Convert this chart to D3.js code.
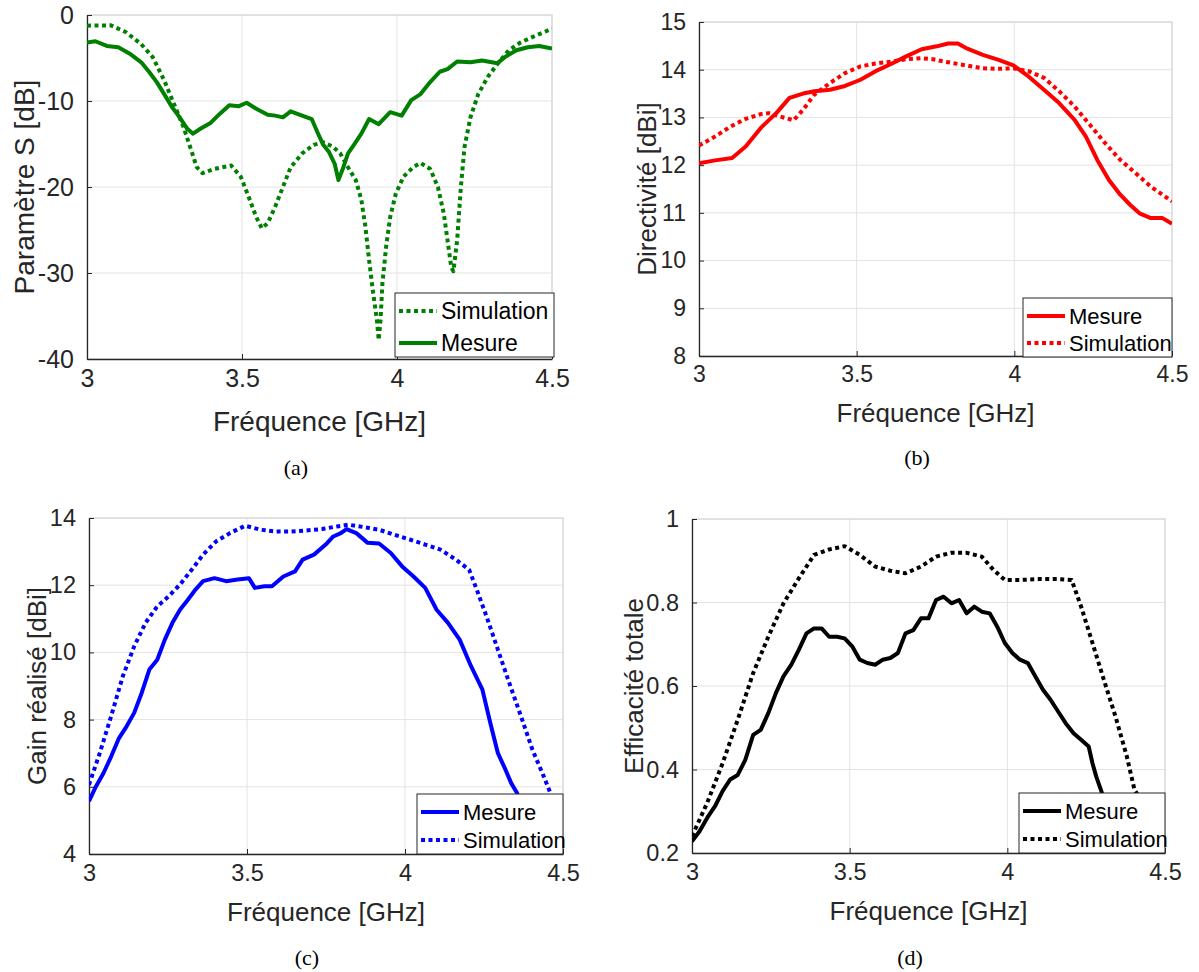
<!DOCTYPE html>
<html>
<head>
<meta charset="utf-8">
<script src="https://cdn.jsdelivr.net/npm/d3@7/dist/d3.min.js"></script>
<style>
body { margin: 0; background: #fff; }
</style>
</head>
<body>
<div id="fig"></div>
<script>
// ---- data ----
var xTicks = [3, 3.5, 4, 4.5];

// (a) Paramètre S
var aSimF = [3.0,3.077,3.126,3.175,3.212,3.249,3.28,3.311,3.336,3.354,3.373,3.41,3.465,3.496,3.521,3.546,3.564,3.583,3.607,3.632,3.657,3.694,3.731,3.762,3.793,3.817,3.842,3.867,3.885,3.898,3.91,3.923,3.935,3.941,3.947,3.953,3.965,3.978,3.996,4.021,4.052,4.076,4.107,4.132,4.151,4.163,4.175,4.182,4.194,4.206,4.218,4.237,4.262,4.293,4.324,4.361,4.398,4.447,4.5];
var aSimV = [-1.24,-1.2,-2.0,-3.4,-4.9,-7.6,-10.3,-13,-15.7,-17.7,-18.4,-17.9,-17.5,-18.8,-21.1,-23.5,-24.8,-24.2,-22.3,-20,-17.7,-16.1,-15.1,-14.8,-15.3,-16.1,-17.7,-19.2,-21.5,-24.6,-28.5,-32.3,-35.4,-37.8,-35.4,-31.2,-26.9,-23.5,-20.8,-18.8,-17.7,-17.2,-17.9,-20,-23.1,-26.2,-29.3,-29.8,-26.2,-20,-15.3,-11.9,-9.2,-7.2,-5.7,-4.1,-3.2,-2.4,-1.6];
var aMesF = [3.0,3.027,3.064,3.101,3.138,3.175,3.2,3.225,3.249,3.274,3.299,3.323,3.342,3.367,3.397,3.428,3.459,3.49,3.515,3.546,3.583,3.607,3.632,3.657,3.694,3.725,3.743,3.762,3.78,3.799,3.811,3.824,3.842,3.861,3.885,3.91,3.941,3.978,4.015,4.046,4.076,4.107,4.138,4.163,4.194,4.237,4.274,4.324,4.348,4.385,4.422,4.459,4.5];
var aMesV = [-3.2,-3.05,-3.6,-3.75,-4.5,-5.5,-6.6,-7.8,-9.2,-10.7,-11.9,-13.2,-13.8,-13.2,-12.6,-11.5,-10.5,-10.6,-10.2,-10.9,-11.6,-11.7,-11.9,-11.2,-11.7,-12.1,-13.6,-15.1,-15.9,-17.3,-19.2,-18.0,-16.1,-15.1,-13.8,-12.1,-12.7,-11.3,-11.7,-9.9,-9.2,-7.8,-6.6,-6.3,-5.4,-5.5,-5.3,-5.6,-4.9,-4.1,-3.75,-3.6,-3.9];
var aYTicks = [-40, -30, -20, -10, 0];

// (b) Directivité
var bMesF = [3.0,3.051,3.105,3.148,3.196,3.245,3.287,3.33,3.366,3.415,3.463,3.512,3.56,3.609,3.657,3.706,3.754,3.79,3.821,3.851,3.9,3.948,3.997,4.045,4.094,4.142,4.191,4.227,4.263,4.3,4.336,4.367,4.397,4.433,4.47,4.5];
var bMesV = [12.04,12.1,12.15,12.39,12.78,13.09,13.41,13.5,13.55,13.58,13.66,13.79,13.97,14.12,14.28,14.43,14.49,14.55,14.55,14.44,14.31,14.21,14.09,13.86,13.58,13.3,12.95,12.6,12.11,11.69,11.38,11.17,10.99,10.89,10.89,10.77];
var bSimF = [3.0,3.051,3.1,3.148,3.196,3.221,3.257,3.3,3.33,3.366,3.415,3.463,3.512,3.56,3.609,3.657,3.706,3.742,3.778,3.839,3.9,3.948,3.997,4.045,4.094,4.142,4.191,4.239,4.288,4.336,4.385,4.433,4.47,4.5];
var bSimV = [12.41,12.6,12.81,12.97,13.07,13.09,13.02,12.94,13.16,13.48,13.72,13.93,14.07,14.13,14.17,14.22,14.24,14.22,14.17,14.1,14.03,14.02,14.03,13.97,13.83,13.55,13.23,12.85,12.46,12.11,11.83,11.55,11.38,11.24];
var bYTicks = [8, 9, 10, 11, 12, 13, 14, 15];

// (c) Gain réalisé
var cMesF = [3.0,3.022,3.046,3.07,3.095,3.119,3.143,3.167,3.191,3.216,3.24,3.264,3.288,3.313,3.337,3.361,3.397,3.434,3.47,3.506,3.525,3.555,3.579,3.615,3.652,3.676,3.712,3.749,3.773,3.797,3.815,3.846,3.882,3.918,3.955,3.991,4.027,4.064,4.1,4.136,4.173,4.209,4.245,4.27,4.294,4.318,4.336,4.355,4.379,4.403];
var cMesV = [5.57,6.01,6.41,6.9,7.45,7.8,8.2,8.8,9.49,9.78,10.38,10.88,11.27,11.57,11.87,12.12,12.21,12.12,12.17,12.21,11.92,11.97,11.97,12.26,12.41,12.76,12.91,13.21,13.45,13.55,13.67,13.55,13.26,13.24,12.96,12.56,12.26,11.92,11.27,10.88,10.38,9.59,8.89,7.9,7.0,6.51,6.11,5.81,4.92,4.0];
var cSimF = [3.0,3.034,3.07,3.107,3.143,3.179,3.216,3.252,3.288,3.325,3.361,3.403,3.446,3.494,3.543,3.591,3.64,3.688,3.737,3.785,3.821,3.87,3.918,3.967,4.015,4.064,4.112,4.161,4.203,4.227,4.258,4.294,4.33,4.367,4.403,4.439,4.464,4.5];
var cSimV = [6.06,7.0,8.1,9.29,10.18,10.88,11.37,11.67,12.02,12.46,12.91,13.31,13.55,13.77,13.65,13.6,13.6,13.63,13.67,13.75,13.8,13.73,13.65,13.5,13.36,13.21,13.06,12.76,12.46,11.87,11.07,10.08,9.09,8.1,7.11,6.31,5.72,4.82];
var cYTicks = [4, 6, 8, 10, 12, 14];

// (d) Efficacité totale
var dMesF = [3.0,3.024,3.048,3.073,3.097,3.121,3.145,3.169,3.194,3.218,3.242,3.266,3.29,3.315,3.339,3.363,3.387,3.411,3.435,3.46,3.484,3.508,3.532,3.556,3.581,3.605,3.629,3.653,3.677,3.702,3.726,3.75,3.774,3.798,3.823,3.847,3.871,3.895,3.919,3.944,3.968,3.992,4.016,4.04,4.065,4.089,4.113,4.137,4.161,4.185,4.21,4.234,4.258,4.27,4.282,4.3,4.331,4.355];
var dMesV = [0.228,0.252,0.284,0.312,0.348,0.376,0.387,0.423,0.483,0.495,0.535,0.583,0.623,0.651,0.687,0.726,0.738,0.738,0.718,0.718,0.714,0.695,0.663,0.655,0.651,0.663,0.667,0.679,0.726,0.734,0.762,0.762,0.806,0.814,0.798,0.806,0.774,0.79,0.778,0.774,0.742,0.703,0.679,0.663,0.655,0.623,0.591,0.567,0.539,0.511,0.487,0.471,0.455,0.415,0.383,0.344,0.272,0.2];
var dSimF = [3.0,3.048,3.097,3.145,3.194,3.242,3.29,3.339,3.387,3.435,3.484,3.532,3.581,3.629,3.677,3.726,3.774,3.823,3.871,3.919,3.956,3.992,4.04,4.101,4.161,4.204,4.234,4.27,4.306,4.343,4.379,4.403,4.452,4.5];
var dSimV = [0.24,0.32,0.415,0.519,0.631,0.718,0.798,0.858,0.914,0.927,0.935,0.914,0.886,0.876,0.87,0.886,0.91,0.919,0.919,0.91,0.878,0.854,0.854,0.856,0.856,0.854,0.79,0.703,0.615,0.527,0.431,0.352,0.29,0.23];
var dYTicks = [0.2, 0.4, 0.6, 0.8, 1];

var xLabel = "Fréquence [GHz]";

var W = 1199, H = 972;
var svg = d3.select("#fig").append("svg")
	.attr("width", W)
	.attr("height", H)
	.style("font-family", "'Liberation Sans', Arial, sans-serif");

function zip(f, v) {
	return f.map(function(d, i) { return [d, v[i]]; });
}

var panels = [
	{ id: "a", x0: 87, x1: 552, y0: 15, y1: 359, yDomain: [-40, 0], yTicks: aYTicks, yLabel: "Paramètre S [dB]",
	  yLabelX: 24, xLabelY: 421, tickSize: 25, labelSize: 28, legendSize: 23,
	  cap: "(a)", capX: 296, capY: 467, color: "#008000",
	  series: [{ name: "Simulation", dotted: true, f: aSimF, v: aSimV }, { name: "Mesure", dotted: false, f: aMesF, v: aMesV }],
	  legend: { x: 395, y: 293, w: 159, h: 64 } },
	{ id: "b", x0: 699, x1: 1172, y0: 22, y1: 356, yDomain: [8, 15], yTicks: bYTicks, yLabel: "Directivité [dBi]",
	  yLabelX: 647, xLabelY: 413, tickSize: 23, labelSize: 26, legendSize: 22,
	  cap: "(b)", capX: 917, capY: 457, color: "#ff0000",
	  series: [{ name: "Mesure", dotted: false, f: bMesF, v: bMesV }, { name: "Simulation", dotted: true, f: bSimF, v: bSimV }],
	  legend: { x: 1023, y: 298, w: 149, h: 59 } },
	{ id: "c", x0: 89, x1: 563, y0: 518, y1: 854, yDomain: [4, 14], yTicks: cYTicks, yLabel: "Gain réalisé [dBi]",
	  yLabelX: 37, xLabelY: 912, tickSize: 23.5, labelSize: 26, legendSize: 22,
	  cap: "(c)", capX: 307, capY: 957, color: "#0000ff",
	  series: [{ name: "Mesure", dotted: false, f: cMesF, v: cMesV }, { name: "Simulation", dotted: true, f: cSimF, v: cSimV }],
	  legend: { x: 417, y: 794, w: 146, h: 60 } },
	{ id: "d", x0: 692, x1: 1165, y0: 519, y1: 853, yDomain: [0.2, 1], yTicks: dYTicks, yLabel: "Efficacité totale",
	  yLabelX: 634, xLabelY: 911, tickSize: 23.5, labelSize: 26, legendSize: 22,
	  cap: "(d)", capX: 910, capY: 957, color: "#000000",
	  series: [{ name: "Mesure", dotted: false, f: dMesF, v: dMesV }, { name: "Simulation", dotted: true, f: dSimF, v: dSimV }],
	  legend: { x: 1019, y: 793, w: 146, h: 60 } }
];

panels.forEach(drawPanel);

function drawPanel(p) {
	var x = d3.scaleLinear().domain([3, 4.5]).range([p.x0, p.x1]);
	var y = d3.scaleLinear().domain(p.yDomain).range([p.y1, p.y0]);
	var g = svg.append("g");

	// grid
	g.append("g").selectAll("line").data(xTicks).enter().append("line")
		.attr("x1", function(d) { return x(d); }).attr("x2", function(d) { return x(d); })
		.attr("y1", p.y0).attr("y2", p.y1)
		.attr("stroke", "#e3e3e3").attr("stroke-width", 1);
	g.append("g").selectAll("line").data(p.yTicks).enter().append("line")
		.attr("x1", p.x0).attr("x2", p.x1)
		.attr("y1", function(d) { return y(d); }).attr("y2", function(d) { return y(d); })
		.attr("stroke", "#e3e3e3").attr("stroke-width", 1);

	// top / right box edges (light)
	g.append("path")
		.attr("d", "M" + p.x0 + "," + p.y0 + "H" + p.x1 + "V" + p.y1)
		.attr("fill", "none").attr("stroke", "#dcdcdc").attr("stroke-width", 1.5);

	// axes
	var xa = g.append("g")
		.attr("transform", "translate(0," + p.y1 + ")")
		.call(d3.axisBottom(x).tickValues(xTicks).tickSizeInner(-5).tickSizeOuter(0).tickPadding(14)
			.tickFormat(function(d) { return String(d); }));
	var ya = g.append("g")
		.attr("transform", "translate(" + p.x0 + ",0)")
		.call(d3.axisLeft(y).tickValues(p.yTicks).tickSizeInner(-5).tickSizeOuter(0).tickPadding(13)
			.tickFormat(function(d) { return String(d); }));
	[xa, ya].forEach(function(a) {
		a.select(".domain").attr("stroke", "#262626").attr("stroke-width", 1.3);
		a.selectAll(".tick line").attr("stroke", "#262626");
		a.selectAll(".tick text").attr("fill", "#262626")
			.style("font-size", p.tickSize + "px")
			.style("font-family", "'Liberation Sans', Arial, sans-serif");
	});
	xa.selectAll(".tick text").attr("dy", "0.71em").attr("y", 10);

	// clip
	var clipId = "clip-" + p.id;
	svg.append("clipPath").attr("id", clipId).append("rect")
		.attr("x", p.x0).attr("y", p.y0)
		.attr("width", p.x1 - p.x0).attr("height", p.y1 - p.y0);

	var line = d3.line()
		.x(function(d) { return x(d[0]); })
		.y(function(d) { return y(d[1]); });

	var lg = g.append("g").attr("clip-path", "url(#" + clipId + ")");
	p.series.forEach(function(s) {
		lg.append("path")
			.datum(zip(s.f, s.v))
			.attr("d", line)
			.attr("fill", "none")
			.attr("stroke", p.color)
			.attr("stroke-width", 4)
			.attr("stroke-linejoin", "round")
			.attr("stroke-dasharray", s.dotted ? "4,3.5" : null);
	});

	// legend
	var L = p.legend;
	var leg = g.append("g");
	leg.append("rect")
		.attr("x", L.x).attr("y", L.y).attr("width", L.w).attr("height", L.h)
		.attr("fill", "#fff").attr("stroke", "#262626").attr("stroke-width", 1);
	p.series.forEach(function(s, i) {
		var cy = L.y + 18 + i * (L.h - 32);
		leg.append("line")
			.attr("x1", L.x + 4).attr("x2", L.x + 42)
			.attr("y1", cy).attr("y2", cy)
			.attr("stroke", p.color).attr("stroke-width", 4)
			.attr("stroke-dasharray", s.dotted ? "4,3.5" : null);
		leg.append("text")
			.attr("x", L.x + 46).attr("y", cy).attr("dy", "0.35em")
			.attr("fill", "#000")
			.style("font-size", p.legendSize + "px")
			.text(s.name);
	});

	// axis labels
	g.append("text")
		.attr("x", (p.x0 + p.x1) / 2).attr("y", p.xLabelY).attr("dy", "0.35em")
		.attr("text-anchor", "middle").attr("fill", "#262626")
		.style("font-size", p.labelSize + "px")
		.text(xLabel);
	g.append("text")
		.attr("transform", "translate(" + p.yLabelX + "," + ((p.y0 + p.y1) / 2) + ") rotate(-90)")
		.attr("dy", "0.35em")
		.attr("text-anchor", "middle").attr("fill", "#262626")
		.style("font-size", p.labelSize + "px")
		.text(p.yLabel);

	// caption
	g.append("text")
		.attr("x", p.capX).attr("y", p.capY).attr("dy", "0.35em")
		.attr("text-anchor", "middle").attr("fill", "#000")
		.style("font-family", "'Liberation Serif', 'DejaVu Serif', serif")
		.style("font-size", "22px")
		.text(p.cap);
}
</script>
</body>
</html>
